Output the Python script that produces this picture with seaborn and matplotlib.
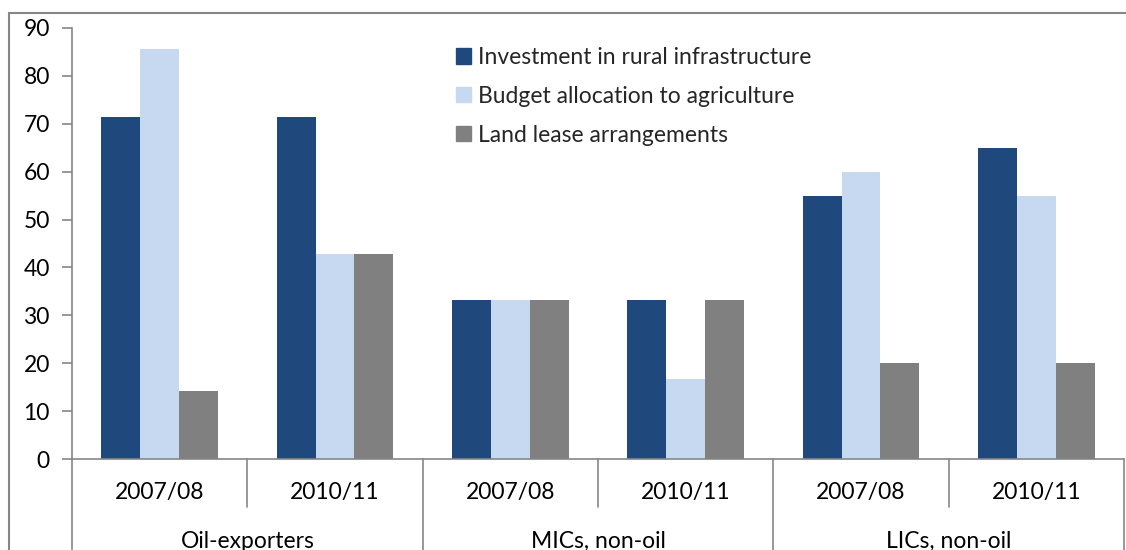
import matplotlib
matplotlib.use("Agg")
import matplotlib.pyplot as plt
from matplotlib.lines import Line2D
import pandas as pd
import seaborn as sns

# Data ---------------------------------------------------------------
regions = ["Oil-exporters", "MICs, non-oil", "LICs, non-oil"]
periods = ["2007/08", "2010/11"]
series = ["Investment in rural infrastructure",
          "Budget allocation to agriculture",
          "Land lease arrangements"]
investment = [71.4, 71.4, 33.3, 33.3, 55.0, 65.0]
budget = [85.7, 42.9, 33.3, 16.7, 60.0, 55.0]
land_lease = [14.3, 42.9, 33.3, 33.3, 20.0, 20.0]
colors = ["#1F497D", "#C6D9F1", "#808080"]

slots = [f"{r} {p}" for r in regions for p in periods]
rows = []
for name, vals in zip(series, [investment, budget, land_lease]):
    for slot, v in zip(slots, vals):
        rows.append({"slot": slot, "series": name, "value": v})
df = pd.DataFrame(rows)

# Figure -------------------------------------------------------------
sns.set_style("white")
plt.rcParams["font.family"] = ["Lato", "DejaVu Sans"]
FS = 16.5
W, H = 1126, 550
fig = plt.figure(figsize=(W / 100, H / 100), dpi=100)
ax = fig.add_axes([72 / W, 1 - 459 / H, (1124 - 72) / W, (459 - 28) / H])

sns.barplot(data=df, x="slot", y="value", hue="series", order=slots,
            hue_order=series, palette=colors, width=0.665, gap=0,
            saturation=1, ax=ax, errorbar=None, linewidth=0)

ax.set_xlim(-0.5, len(slots) - 0.5)
ax.set_ylim(0, 90)
ax.set_yticks(range(0, 91, 10))
ax.set_xticks([])
ax.set_xlabel("")
ax.set_ylabel("")
for s in ["top", "right"]:
    ax.spines[s].set_visible(False)
for s in ["left", "bottom"]:
    ax.spines[s].set_color("#868686")
    ax.spines[s].set_linewidth(1.2)
ax.tick_params(axis="y", direction="out", length=7, width=1.2,
               color="#868686", pad=9, labelsize=FS, labelcolor="black",
               left=True)

# Two-level category axis
gray = "#868686"
trans = ax.get_xaxis_transform()
px = 1 / (459 - 28)  # one pixel in axes-fraction height
for i, slot in enumerate(slots):
    ax.text(i, -(492 - 459) * px, periods[i % 2], transform=trans,
            ha="center", va="center", fontsize=FS, color="black")
for j, reg in enumerate(regions):
    ax.text(2 * j + 0.5, -(541 - 459) * px, reg, transform=trans,
            ha="center", va="center", fontsize=FS, color="black")
for k in range(len(slots) + 1):
    x = k - 0.5
    bottom = -(H - 459) * px if k % 2 == 0 else -(507 - 459) * px
    ax.add_line(Line2D([x, x], [0, bottom], transform=trans, color=gray,
                       lw=1.2, clip_on=False))

# Legend
handles = [plt.Rectangle((0, 0), 1, 1, color=c) for c in colors]
ax.legend(handles, series, loc="upper left", frameon=False,
          bbox_to_anchor=((456 - 72) / (1124 - 72), (459 - 47) * px),
          borderpad=0, borderaxespad=0,
          fontsize=FS, handlelength=0.65, handleheight=0.65,
          handletextpad=0.3, labelspacing=0.78)

# Outer frame
fig.add_artist(Line2D([8.5 / W, 8.5 / W], [0, 1 - 12.5 / H],
                      transform=fig.transFigure, color=gray, lw=1.5))
fig.add_artist(Line2D([8.5 / W, 1], [1 - 12.5 / H, 1 - 12.5 / H],
                      transform=fig.transFigure, color=gray, lw=1.5))

fig.savefig("out.png", dpi=100)
